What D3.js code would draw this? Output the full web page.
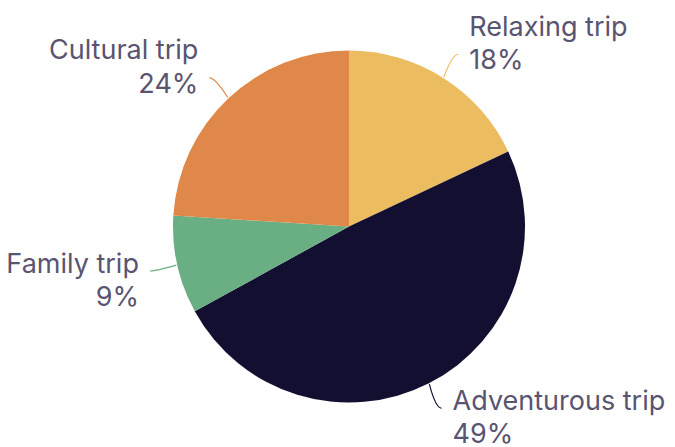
<!DOCTYPE html>
<html>
<head>
<meta charset="utf-8">
<script src="https://cdn.jsdelivr.net/npm/d3@7"></script>
<style>
  html, body { margin: 0; padding: 0; background: #ffffff; }
  svg { display: block; }
  .label { font-family: Inter, "Noto Sans", sans-serif; font-size: 27px; fill: #595470; }
</style>
</head>
<body>
<svg id="chart" width="675" height="447"></svg>
<script>
// Trip types and their share (%)
const categories = ["Relaxing trip", "Adventurous trip", "Family trip", "Cultural trip"];
const shares = [18, 49, 9, 24];
const colors = ["#ecbd60", "#130f31", "#6aae83", "#e0884a"];

const width = 675, height = 447;
const cx = 349, cy = 226.5, radius = 176;

const svg = d3.select("#chart");
const g = svg.append("g").attr("transform", `translate(${cx},${cy})`);

const data = categories.map((c, i) => ({ name: c, value: shares[i], color: colors[i] }));

const pie = d3.pie().value(d => d.value).sort(null);
const arcs = pie(data);
const arc = d3.arc().innerRadius(0).outerRadius(radius);

g.selectAll("path.slice")
  .data(arcs)
  .join("path")
  .attr("class", "slice")
  .attr("d", arc)
  .attr("fill", d => d.data.color);

// position on a circle, angle measured clockwise from 12 o'clock
const polar = (r, a) => [r * Math.sin(a), -r * Math.cos(a)];

arcs.forEach(d => {
  const a = (d.startAngle + d.endAngle) / 2;
  const side = Math.sin(a) >= 0 ? 1 : -1;
  const below = -Math.cos(a) > 0;
  const p0 = polar(radius + 1, a);
  const p2 = polar(radius + 28, a);
  const c1 = [p2[0] - side * 6, p2[1]];

  // curved leader from the slice edge to the label
  g.append("path")
    .attr("d", `M${p0[0]},${p0[1]} Q${c1[0]},${c1[1]} ${p2[0]},${p2[1]}`)
    .attr("fill", "none")
    .attr("stroke", d.data.color)
    .attr("stroke-width", 1.2);

  const tx = p2[0] + side * 11;
  const y1 = below ? p2[1] + 1.5 : p2[1] - 18.5;
  const text = g.append("text")
    .attr("class", "label")
    .attr("text-anchor", side > 0 ? "start" : "end");
  text.append("tspan").attr("x", tx).attr("y", y1).text(d.data.name);
  text.append("tspan").attr("x", tx).attr("y", y1 + 33.5).text(d.data.value + "%");
});
</script>
</body>
</html>
